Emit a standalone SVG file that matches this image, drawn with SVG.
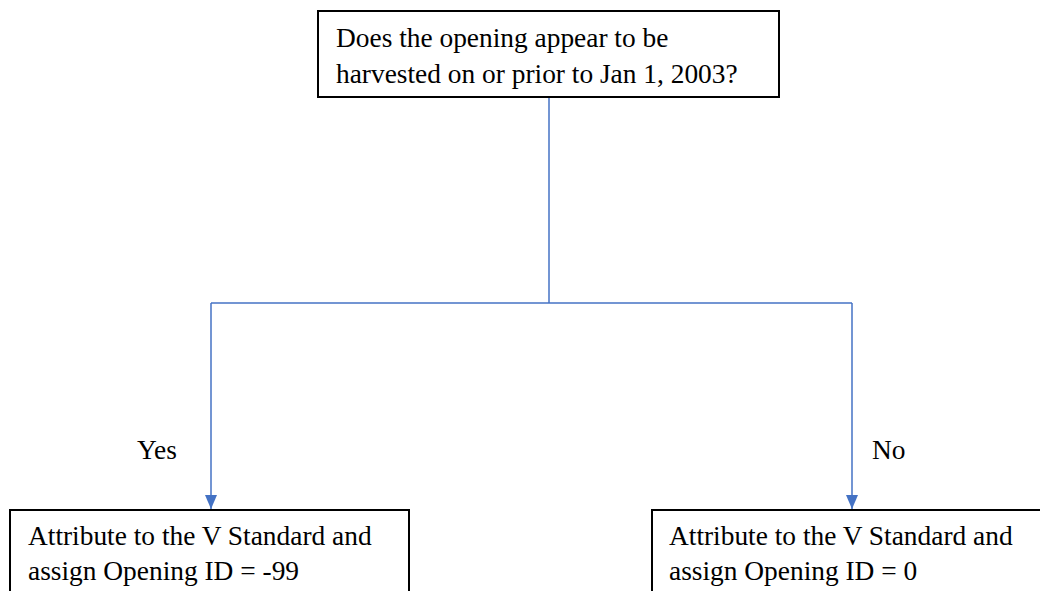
<svg xmlns="http://www.w3.org/2000/svg" width="1040" height="591" viewBox="0 0 1040 591">
  <style>
    .box { fill: #ffffff; stroke: #000000; stroke-width: 2; }
    .lbl { font-family: "Liberation Serif", "Times New Roman", serif; font-size: 27.4px; fill: #000000; }
    .wire { fill: none; stroke: #4472c4; stroke-width: 1.5; }
  </style>
  <defs>
    <marker id="arrow" markerWidth="14" markerHeight="12" refX="14" refY="6" orient="auto" markerUnits="userSpaceOnUse">
      <path d="M0,0 L14,6 L0,12 Z" fill="#4472c4"/>
    </marker>
  </defs>
  <rect width="1040" height="591" fill="#ffffff"/>

  <g id="connectors">
    <path class="wire" d="M549,97 V303"/>
    <path class="wire" d="M211,303 H852"/>
    <path class="wire" d="M211,303 V509" marker-end="url(#arrow)"/>
    <path class="wire" d="M852,303 V509" marker-end="url(#arrow)"/>
    <text class="lbl" x="137" y="459">Yes</text>
    <text class="lbl" x="872" y="459">No</text>
  </g>

  <g id="question">
    <rect class="box" x="318" y="11" width="461" height="86"/>
    <text class="lbl" x="336" y="47">Does the opening appear to be</text>
    <text class="lbl" x="336" y="83">harvested on or prior to Jan 1, 2003?</text>
  </g>

  <g id="yes-outcome">
    <rect class="box" x="10" y="510" width="399" height="100"/>
    <text class="lbl" x="28" y="545">Attribute to the V Standard and</text>
    <text class="lbl" x="28" y="580">assign Opening ID = -99</text>
  </g>

  <g id="no-outcome">
    <rect class="box" x="652" y="510" width="400" height="100"/>
    <text class="lbl" x="669" y="545">Attribute to the V Standard and</text>
    <text class="lbl" x="669" y="580">assign Opening ID = 0</text>
  </g>
</svg>
